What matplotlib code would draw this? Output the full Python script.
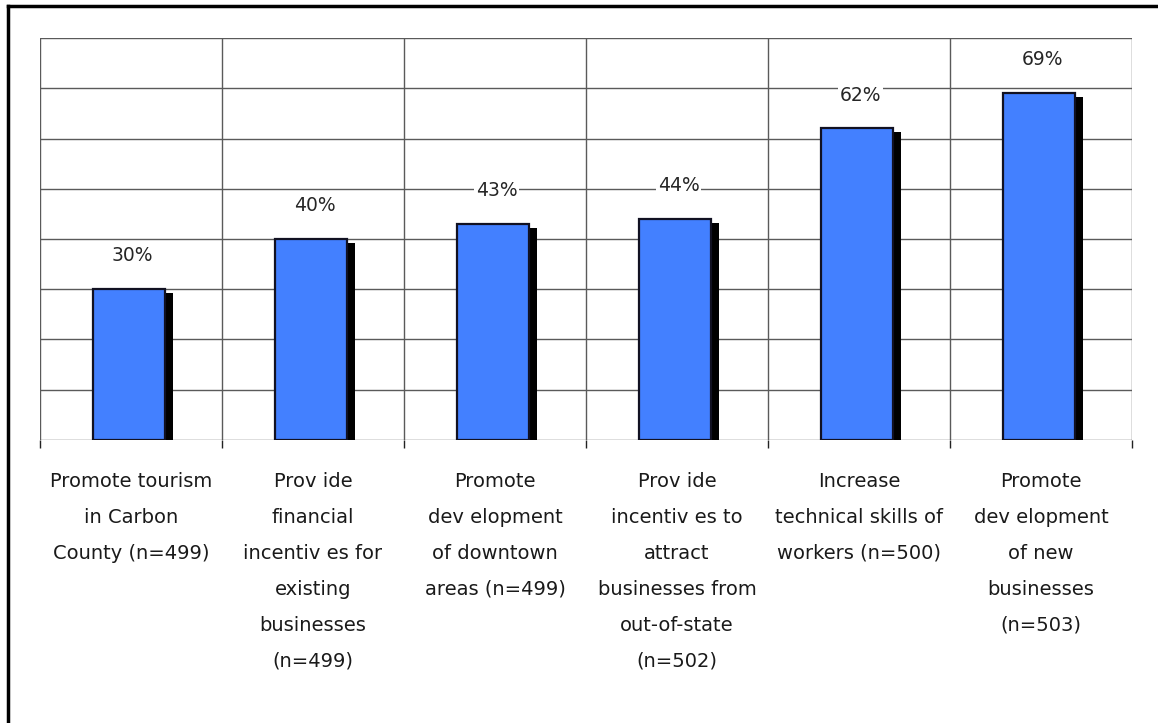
import numpy as np
import matplotlib.pyplot as plt
from matplotlib.lines import Line2D

categories = [
    "Promote tourism\nin Carbon\nCounty (n=499)",
    "Prov ide\nfinancial\nincentiv es for\nexisting\nbusinesses\n(n=499)",
    "Promote\ndev elopment\nof downtown\nareas (n=499)",
    "Prov ide\nincentiv es to\nattract\nbusinesses from\nout-of-state\n(n=502)",
    "Increase\ntechnical skills of\nworkers (n=500)",
    "Promote\ndev elopment\nof new\nbusinesses\n(n=503)",
]
values = [30, 40, 43, 44, 62, 69]
value_labels = ["30%", "40%", "43%", "44%", "62%", "69%"]
y_ticks = [0, 10, 20, 30, 40, 50, 60, 70, 80]

plt.rcParams["font.family"] = ["DejaVu Sans"]

W, H = 1158, 723
fig = plt.figure(figsize=(W / 100, H / 100), dpi=100)

# plot area in pixel terms
left, right, top, bottom = 40, 1132, 38, 440
ax = fig.add_axes([left / W, 1 - bottom / H, (right - left) / W, (bottom - top) / H])

n = len(values)
x = np.arange(n)
grid_col = "#5a5a5a"

ax.set_xlim(-0.5, n - 0.5)
ax.set_ylim(0, 80)
for yv in y_ticks:
    ax.axhline(yv, color=grid_col, lw=1.0, zorder=0)
for xb in np.arange(n + 1) - 0.5:
    ax.axvline(xb, color=grid_col, lw=1.0, zorder=0)

bar_w = 0.40
dx = -0.011
shadow_dx = 0.044
# drop shadows behind the bars
ax.bar(x + dx + shadow_dx, np.array(values) - 0.8, width=bar_w, color="black",
       edgecolor="none", zorder=2)
ax.bar(x + dx, values, width=bar_w, color="#4380FF", edgecolor="#111122",
       linewidth=1.6, zorder=3)

for xi, v, lab in zip(x, values, value_labels):
    ax.annotate(lab, (xi + dx + 0.02, v), xytext=(0, 24), textcoords="offset points",
                ha="center", va="center", fontsize=13.5, color="#262626", zorder=4,
                bbox=dict(boxstyle="square,pad=0.1", fc="white", ec="none"))

ax.set_xticks(np.arange(n + 1) - 0.5)
ax.set_xticklabels([])
ax.tick_params(axis="x", direction="out", length=6, width=1.0, color="#222222")
ax.set_yticks([])
for s in ax.spines.values():
    s.set_visible(False)

for xi, cat in zip(x, categories):
    ax.annotate(cat, (xi, 0), xytext=(0, -23), textcoords="offset points",
                ha="center", va="top", fontsize=14, color="#1a1a1a",
                linespacing=2.13, annotation_clip=False)

# outer frame (top and left edges)
fig.add_artist(Line2D([8 / W, 1.0], [1 - 6 / H, 1 - 6 / H], color="black", lw=2.5))
fig.add_artist(Line2D([8 / W, 8 / W], [0, 1 - 6 / H], color="black", lw=2.5))

fig.savefig("out.png", dpi=100)
